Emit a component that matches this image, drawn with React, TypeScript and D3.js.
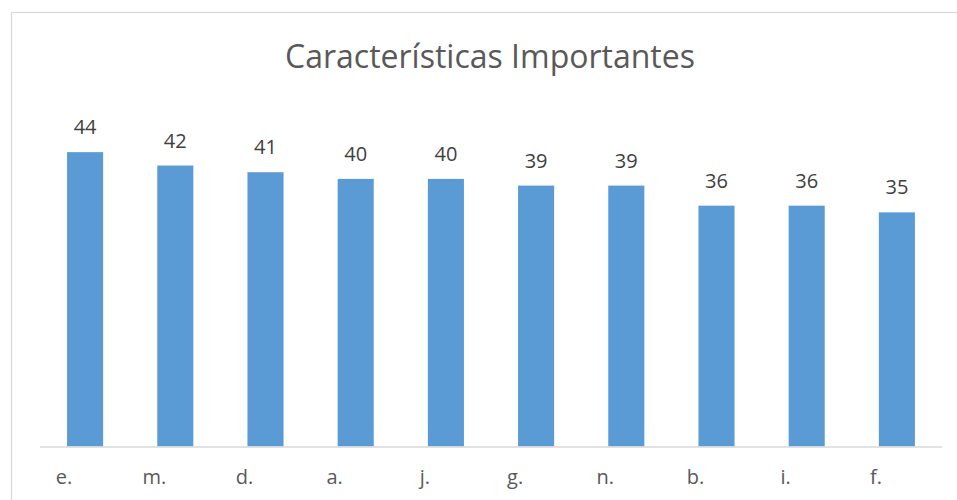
import React, { useEffect, useRef } from 'react';
import * as d3 from 'd3';

const categories = ['e.', 'm.', 'd.', 'a.', 'j.', 'g.', 'n.', 'b.', 'i.', 'f.'];
const values = [44, 42, 41, 40, 40, 39, 39, 36, 36, 35];

const FONT = "'Open Sans', 'Liberation Sans', sans-serif";

const App = () => {
  const ref = useRef<SVGSVGElement | null>(null);

  useEffect(() => {
    if (!ref.current) return;
    const svg = d3.select(ref.current);
    svg.selectAll('*').remove();

    const width = 957;
    const height = 500;

    // chart frame
    svg.append('rect')
      .attr('x', 11.5)
      .attr('y', 12.5)
      .attr('width', width + 10)
      .attr('height', height + 10)
      .attr('fill', '#fff')
      .attr('stroke', '#d9d9d9')
      .attr('stroke-width', 1.3);

    const x = d3.scaleBand<string>()
      .domain(categories)
      .range([40, 942])
      .paddingInner(0.6)
      .paddingOuter(0.3);

    const y = d3.scaleLinear()
      .domain([0, 50])
      .range([446.5, 112]);

    const data = categories.map((c, i) => ({ cat: c, val: values[i] }));

    // bars
    svg.selectAll('.bar')
      .data(data)
      .enter()
      .append('rect')
      .attr('class', 'bar')
      .attr('x', d => x(d.cat)!)
      .attr('y', d => y(d.val))
      .attr('width', x.bandwidth())
      .attr('height', d => y(0) - y(d.val))
      .attr('fill', '#5b9bd5');

    // baseline
    svg.append('line')
      .attr('x1', 40)
      .attr('x2', 942)
      .attr('y1', y(0) + 0.5)
      .attr('y2', y(0) + 0.5)
      .attr('stroke', '#d9d9d9')
      .attr('stroke-width', 1.5);

    // value labels
    svg.selectAll('.val')
      .data(data)
      .enter()
      .append('text')
      .attr('class', 'val')
      .attr('x', d => x(d.cat)! + x.bandwidth() / 2)
      .attr('y', d => y(d.val) - 18)
      .attr('text-anchor', 'middle')
      .style('font-family', FONT)
      .style('font-size', '20px')
      .style('fill', '#404040')
      .text(d => d.val);

    // category labels
    svg.selectAll('.cat')
      .data(data)
      .enter()
      .append('text')
      .attr('class', 'cat')
      .attr('x', d => x(d.cat)! + x.bandwidth() / 2 - 21)
      .attr('y', 484)
      .attr('text-anchor', 'middle')
      .style('font-family', FONT)
      .style('font-size', '20px')
      .style('fill', '#595959')
      .text(d => d.cat);

    // title
    svg.append('text')
      .attr('x', 490)
      .attr('y', 68)
      .attr('text-anchor', 'middle')
      .style('font-family', FONT)
      .style('font-size', '32px')
      .style('fill', '#595959')
      .text('Características Importantes');
  }, []);

  return (
    <svg
      ref={ref}
      width={957}
      height={500}
      style={{ position: 'absolute', left: 0, top: 0, display: 'block' }}
    />
  );
};

export default App;
